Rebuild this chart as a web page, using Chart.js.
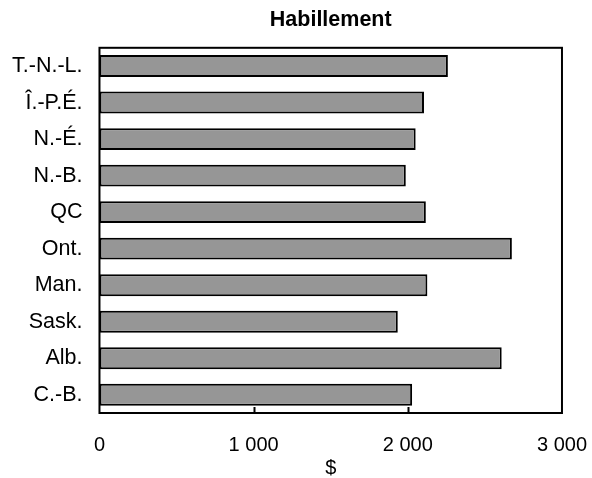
<!DOCTYPE html>
<html>
<head>
<meta charset="utf-8">
<script src="https://cdn.jsdelivr.net/npm/chart.js@4/dist/chart.umd.min.js"></script>
<style>
  html, body { margin: 0; padding: 0; background: #fff; }
  #wrap { width: 592px; height: 478px; }
</style>
</head>
<body>
<div id="wrap"><canvas id="habillement-bar-chart" width="592" height="478"></canvas></div>
<script>
const provinces = ['T.-N.-L.', 'Î.-P.É.', 'N.-É.', 'N.-B.', 'QC', 'Ont.', 'Man.', 'Sask.', 'Alb.', 'C.-B.'];
const depenses = [2260, 2105, 2051, 1987, 2117, 2675, 2127, 1935, 2609, 2028];
const xTicks = [0, 1000, 2000, 3000];

const FONT = "'Liberation Sans', Arial, sans-serif";

// cadre noir autour de la zone de tracé + graduations vers l'intérieur
const frame = {
  id: 'frame',
  afterDraw(chart) {
    const { ctx, chartArea: a, scales: { x } } = chart;
    ctx.save();
    ctx.strokeStyle = '#000';
    ctx.lineWidth = 2;
    ctx.strokeRect(a.left, a.top, a.right - a.left, a.bottom - a.top);
    ctx.beginPath();
    xTicks.slice(1, -1).forEach(v => {
      const px = Math.round(x.getPixelForValue(v)) + 0.5;
      ctx.moveTo(px, a.bottom);
      ctx.lineTo(px, a.bottom - 6);
    });
    ctx.stroke();
    ctx.restore();
  }
};

const ctx = document.getElementById('habillement-bar-chart').getContext('2d');
const chart = new Chart(ctx, {
  type: 'bar',
  data: {
    labels: provinces,
    datasets: [{
      data: depenses,
      backgroundColor: '#969696',
      borderColor: '#000',
      borderWidth: 2,
      borderSkipped: false,
      barPercentage: 0.6,
      categoryPercentage: 1
    }]
  },
  options: {
    indexAxis: 'y',
    responsive: false,
    animation: false,
    layout: { padding: { left: 4, right: 30, top: 0, bottom: 0 } },
    plugins: {
      legend: { display: false },
      tooltip: { enabled: false },
      title: {
        display: true,
        fullSize: false,
        text: 'Habillement',
        color: '#000',
        font: { family: FONT, size: 21.5, weight: 'bold' },
        padding: { top: 7, bottom: 15 }
      }
    },
    scales: {
      x: {
        min: 0,
        max: 3000,
        afterBuildTicks: s => { s.ticks = xTicks.map(v => ({ value: v })); },
        grid: { display: false, drawTicks: true, tickLength: 15 },
        border: { display: false },
        ticks: {
          color: '#000',
          padding: 5,
          maxRotation: 0,
          font: { family: FONT, size: 20 },
          callback: v => v === 0 ? '0' : (v / 1000) + ' 000'
        },
        title: {
          display: true,
          text: '$',
          color: '#000',
          font: { family: FONT, size: 20, lineHeight: 1 },
          padding: { top: -4, bottom: 0 }
        }
      },
      y: {
        grid: { display: false, drawTicks: true, tickLength: 9 },
        border: { display: false },
        ticks: {
          color: '#000',
          padding: 8,
          font: { family: FONT, size: 21.5 }
        }
      }
    }
  },
  plugins: [frame]
});
</script>
</body>
</html>
